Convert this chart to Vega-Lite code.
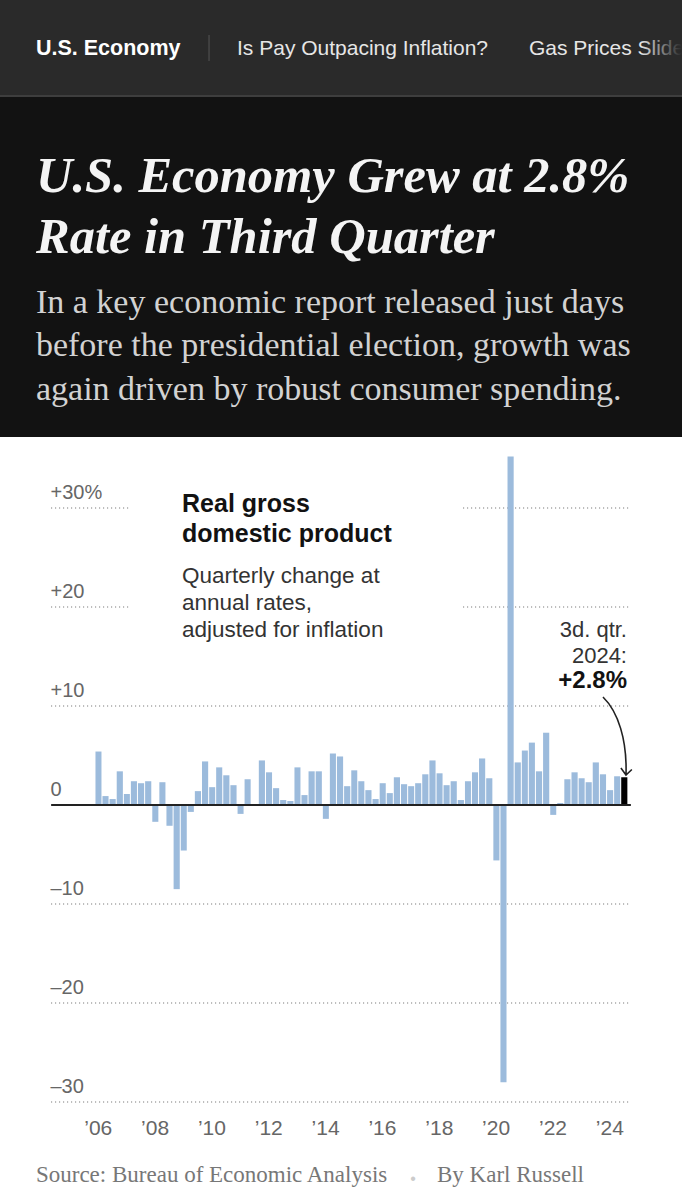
{
  "$schema": "https://vega.github.io/schema/vega-lite/v6.json",
  "width": 682,
  "height": 1200,
  "padding": 0,
  "autosize": {"type": "fit", "contains": "padding"},
  "background": "#ffffff",
  "config": {"view": {"stroke": null}},
  "datasets": {
    "gdp": [
      {"quarter": "2006-01-01", "gdp": 5.4}, {"quarter": "2006-04-01", "gdp": 0.9}, {"quarter": "2006-07-01", "gdp": 0.6}, {"quarter": "2006-10-01", "gdp": 3.4},
      {"quarter": "2007-01-01", "gdp": 1.1}, {"quarter": "2007-04-01", "gdp": 2.4}, {"quarter": "2007-07-01", "gdp": 2.2}, {"quarter": "2007-10-01", "gdp": 2.4},
      {"quarter": "2008-01-01", "gdp": -1.7}, {"quarter": "2008-04-01", "gdp": 2.3}, {"quarter": "2008-07-01", "gdp": -2.1}, {"quarter": "2008-10-01", "gdp": -8.5},
      {"quarter": "2009-01-01", "gdp": -4.6}, {"quarter": "2009-04-01", "gdp": -0.7}, {"quarter": "2009-07-01", "gdp": 1.4}, {"quarter": "2009-10-01", "gdp": 4.4},
      {"quarter": "2010-01-01", "gdp": 1.8}, {"quarter": "2010-04-01", "gdp": 3.8}, {"quarter": "2010-07-01", "gdp": 3.0}, {"quarter": "2010-10-01", "gdp": 2.0},
      {"quarter": "2011-01-01", "gdp": -0.9}, {"quarter": "2011-04-01", "gdp": 2.6}, {"quarter": "2011-07-01", "gdp": -0.1}, {"quarter": "2011-10-01", "gdp": 4.5},
      {"quarter": "2012-01-01", "gdp": 3.3}, {"quarter": "2012-04-01", "gdp": 1.7}, {"quarter": "2012-07-01", "gdp": 0.5}, {"quarter": "2012-10-01", "gdp": 0.4},
      {"quarter": "2013-01-01", "gdp": 3.8}, {"quarter": "2013-04-01", "gdp": 1.0}, {"quarter": "2013-07-01", "gdp": 3.4}, {"quarter": "2013-10-01", "gdp": 3.4},
      {"quarter": "2014-01-01", "gdp": -1.4}, {"quarter": "2014-04-01", "gdp": 5.2}, {"quarter": "2014-07-01", "gdp": 4.9}, {"quarter": "2014-10-01", "gdp": 1.9},
      {"quarter": "2015-01-01", "gdp": 3.5}, {"quarter": "2015-04-01", "gdp": 2.4}, {"quarter": "2015-07-01", "gdp": 1.5}, {"quarter": "2015-10-01", "gdp": 0.6},
      {"quarter": "2016-01-01", "gdp": 2.2}, {"quarter": "2016-04-01", "gdp": 1.2}, {"quarter": "2016-07-01", "gdp": 2.8}, {"quarter": "2016-10-01", "gdp": 2.1},
      {"quarter": "2017-01-01", "gdp": 1.9}, {"quarter": "2017-04-01", "gdp": 2.2}, {"quarter": "2017-07-01", "gdp": 3.1}, {"quarter": "2017-10-01", "gdp": 4.5},
      {"quarter": "2018-01-01", "gdp": 3.2}, {"quarter": "2018-04-01", "gdp": 2.0}, {"quarter": "2018-07-01", "gdp": 2.4}, {"quarter": "2018-10-01", "gdp": 0.5},
      {"quarter": "2019-01-01", "gdp": 2.4}, {"quarter": "2019-04-01", "gdp": 3.3}, {"quarter": "2019-07-01", "gdp": 4.7}, {"quarter": "2019-10-01", "gdp": 2.7},
      {"quarter": "2020-01-01", "gdp": -5.6}, {"quarter": "2020-04-01", "gdp": -28.0}, {"quarter": "2020-07-01", "gdp": 35.2}, {"quarter": "2020-10-01", "gdp": 4.3},
      {"quarter": "2021-01-01", "gdp": 5.5}, {"quarter": "2021-04-01", "gdp": 6.3}, {"quarter": "2021-07-01", "gdp": 3.4}, {"quarter": "2021-10-01", "gdp": 7.3},
      {"quarter": "2022-01-01", "gdp": -1.0}, {"quarter": "2022-04-01", "gdp": 0.2}, {"quarter": "2022-07-01", "gdp": 2.6}, {"quarter": "2022-10-01", "gdp": 3.3},
      {"quarter": "2023-01-01", "gdp": 2.7}, {"quarter": "2023-04-01", "gdp": 2.3}, {"quarter": "2023-07-01", "gdp": 4.3}, {"quarter": "2023-10-01", "gdp": 3.1},
      {"quarter": "2024-01-01", "gdp": 1.5}, {"quarter": "2024-04-01", "gdp": 2.9}, {"quarter": "2024-07-01", "gdp": 2.8}
    ],
    "grid": [{"v": 30}, {"v": 20}, {"v": 10}, {"v": -10}, {"v": -20}, {"v": -30}]
  },
  "data": {"name": "gdp"},
  "layer": [
    {
      "data": {"values": [{}]},
      "mark": {"type": "rect", "color": "#2a2a2a"},
      "encoding": {"y": {"datum": 81.31}, "y2": {"datum": 71.72}}
    },
    {
      "data": {"values": [{}]},
      "mark": {"type": "rect", "color": "#3e3e3e"},
      "encoding": {"y": {"datum": 71.72}, "y2": {"datum": 71.52}}
    },
    {
      "data": {"values": [{}]},
      "mark": {"type": "rect", "color": "#121212"},
      "encoding": {"y": {"datum": 71.52}, "y2": {"datum": 37.17}}
    },
    {
      "data": {"values": [{}]},
      "mark": {"type": "text", "text": "U.S. Economy", "font": "Liberation Sans", "fontWeight": "bold", "fontSize": 21.5, "color": "#ffffff", "align": "left", "baseline": "alphabetic", "clip": true},
      "encoding": {"x": {"datum": {"year": 2003, "month": 12, "date": 11, "utc": true}, "type": "temporal"}, "y": {"datum": 75.71}}
    },
    {
      "data": {"values": [{}]},
      "mark": {"type": "rule", "color": "#555555", "strokeWidth": 1},
      "encoding": {"x": {"datum": {"year": 2010, "month": 1, "date": 12, "utc": true}, "type": "temporal"}, "y": {"datum": 77.78}, "y2": {"datum": 75.15}}
    },
    {
      "data": {"values": [{}]},
      "mark": {"type": "text", "text": "Is Pay Outpacing Inflation?", "font": "Liberation Sans", "fontSize": 21, "color": "#e6e6e6", "align": "left", "baseline": "alphabetic", "clip": true},
      "encoding": {"x": {"datum": {"year": 2011, "month": 1, "date": 7, "utc": true}, "type": "temporal"}, "y": {"datum": 75.71}}
    },
    {
      "data": {"values": [{}]},
      "mark": {"type": "text", "text": "Gas Prices Slide", "font": "Liberation Sans", "fontSize": 21, "color": "#e6e6e6", "align": "left", "baseline": "alphabetic", "clip": true},
      "encoding": {"x": {"datum": {"year": 2021, "month": 4, "date": 16, "utc": true}, "type": "temporal"}, "y": {"datum": 75.71}}
    },
    {
      "data": {"values": [{}]},
      "mark": {"type": "rect", "color": {"gradient": "linear", "x1": 0, "x2": 1, "y1": 0, "y2": 0, "stops": [{"offset": 0, "color": "rgba(42,42,42,0)"}, {"offset": 1, "color": "#2a2a2a"}]}},
      "encoding": {"x": {"datum": {"year": 2025, "month": 3, "date": 13, "utc": true}, "type": "temporal"}, "x2": {"datum": {"year": 2026, "month": 9, "date": 3, "utc": true}}, "y": {"datum": 81.0}, "y2": {"datum": 71.9}}
    },
    {
      "data": {"values": [{}]},
      "mark": {"type": "text", "text": ["U.S. Economy Grew at 2.8%", "Rate in Third Quarter"], "font": "Liberation Serif", "fontWeight": "bold", "fontStyle": "italic", "fontSize": 50.5, "lineHeight": 61.5, "color": "#f4f4f4", "align": "left", "baseline": "alphabetic", "clip": true},
      "encoding": {"x": {"datum": {"year": 2003, "month": 12, "date": 11, "utc": true}, "type": "temporal"}, "y": {"datum": 61.92}}
    },
    {
      "data": {"values": [{}]},
      "mark": {"type": "text", "text": ["In a key economic report released just days", "before the presidential election, growth was", "again driven by robust consumer spending."], "font": "Liberation Serif", "fontSize": 34, "lineHeight": 43.5, "color": "#d2d2d2", "align": "left", "baseline": "alphabetic", "clip": true},
      "encoding": {"x": {"datum": {"year": 2003, "month": 12, "date": 11, "utc": true}, "type": "temporal"}, "y": {"datum": 49.7}}
    },
    {
      "data": {"name": "grid"},
      "mark": {"type": "rule", "color": "#a8a8a8", "strokeWidth": 1.3, "strokeDash": [1.2, 2.8]},
      "encoding": {
        "y": {"field": "v", "type": "quantitative"},
        "x": {"datum": {"year": 2004, "month": 6, "date": 21, "utc": true}, "type": "temporal"},
        "x2": {"datum": {"year": 2024, "month": 11, "date": 17, "utc": true}}
      }
    },
    {
      "data": {"values": [{}]},
      "mark": {"type": "rect", "color": "#ffffff"},
      "encoding": {"x": {"datum": {"year": 2007, "month": 4, "date": 2, "utc": true}, "type": "temporal"}, "x2": {"datum": {"year": 2018, "month": 12, "date": 7, "utc": true}}, "y": {"datum": 33}, "y2": {"datum": 16}}
    },
    {
      "mark": {"type": "bar", "timeUnitBandSize": 0.82},
      "encoding": {
        "x": {
          "field": "quarter", "timeUnit": "utcyearquarter", "type": "temporal",
          "scale": {"type": "utc", "nice": false, "domain": [{"year": 2002, "month": 9, "date": 5, "utc": true}, {"year": 2026, "month": 9, "date": 3, "utc": true}]},
          "axis": {
            "title": null, "domain": false, "ticks": false, "grid": false, "offset": -66, "labelPadding": 0,
            "labelBaseline": "alphabetic", "labelFont": "Liberation Sans", "labelFontSize": 21, "labelColor": "#666666",
            "labelFlush": false, "labelOverlap": false,
            "values": [
              {"year": 2006, "month": 2, "date": 12, "utc": true}, {"year": 2008, "month": 2, "date": 12, "utc": true},
              {"year": 2010, "month": 2, "date": 12, "utc": true}, {"year": 2012, "month": 2, "date": 12, "utc": true},
              {"year": 2014, "month": 2, "date": 12, "utc": true}, {"year": 2016, "month": 2, "date": 12, "utc": true},
              {"year": 2018, "month": 2, "date": 12, "utc": true}, {"year": 2020, "month": 2, "date": 12, "utc": true},
              {"year": 2022, "month": 2, "date": 12, "utc": true}, {"year": 2024, "month": 2, "date": 12, "utc": true}
            ],
            "labelExpr": "'’' + utcFormat(datum.value, '%y')"
          }
        },
        "y": {
          "field": "gdp", "type": "quantitative",
          "scale": {"domain": [-39.9, 81.31], "nice": false},
          "axis": {
            "title": null, "domain": false, "ticks": false, "grid": false, "offset": -50, "labelPadding": 0,
            "labelAlign": "left", "labelBaseline": "alphabetic", "labelOffset": -9,
            "labelFont": "Liberation Sans", "labelFontSize": 20, "labelColor": "#666666",
            "labelFlush": false, "labelOverlap": false,
            "values": [-30, -20, -10, 0, 10, 20, 30],
            "labelExpr": "datum.value > 0 ? '+' + datum.value + (datum.value == 30 ? '%' : '') : (datum.value < 0 ? '–' + abs(datum.value) : '0')"
          }
        },
        "color": {"condition": {"test": "utcyear(datum.quarter) == 2024 && utcquarter(datum.quarter) == 3", "value": "#000000"}, "value": "#9cbbdc"}
      }
    },
    {
      "data": {"values": [{}]},
      "mark": {"type": "rule", "color": "#222222", "strokeWidth": 2},
      "encoding": {"y": {"datum": 0}, "x": {"datum": {"year": 2004, "month": 6, "date": 23, "utc": true}, "type": "temporal"}, "x2": {"datum": {"year": 2024, "month": 11, "date": 15, "utc": true}}}
    },
    {
      "data": {"values": [{}]},
      "mark": {"type": "text", "text": ["Real gross", "domestic product"], "font": "Liberation Sans", "fontWeight": "bold", "fontSize": 25, "lineHeight": 30, "color": "#121212", "align": "left", "baseline": "alphabetic", "clip": true},
      "encoding": {"x": {"datum": {"year": 2009, "month": 1, "date": 30, "utc": true}, "type": "temporal"}, "y": {"datum": 29.6}}
    },
    {
      "data": {"values": [{}]},
      "mark": {"type": "text", "text": ["Quarterly change at", "annual rates,", "adjusted for inflation"], "font": "Liberation Sans", "fontSize": 22.5, "lineHeight": 27, "color": "#333333", "align": "left", "baseline": "alphabetic", "clip": true},
      "encoding": {"x": {"datum": {"year": 2009, "month": 1, "date": 30, "utc": true}, "type": "temporal"}, "y": {"datum": 22.42}}
    },
    {
      "data": {"values": [{}]},
      "mark": {"type": "text", "text": ["3d. qtr.", "2024:"], "font": "Liberation Sans", "fontSize": 22, "lineHeight": 26, "color": "#333333", "align": "right", "baseline": "alphabetic", "clip": true},
      "encoding": {"x": {"datum": {"year": 2024, "month": 9, "date": 26, "utc": true}, "type": "temporal"}, "y": {"datum": 16.97}}
    },
    {
      "data": {"values": [{}]},
      "mark": {"type": "text", "text": "+2.8%", "font": "Liberation Sans", "fontWeight": "bold", "fontSize": 24, "color": "#121212", "align": "right", "baseline": "alphabetic", "clip": true},
      "encoding": {"x": {"datum": {"year": 2024, "month": 9, "date": 26, "utc": true}, "type": "temporal"}, "y": {"datum": 11.82}}
    },
    {
      "data": {"values": [{}]},
      "mark": {"type": "point", "shape": "M-0.36,-1 C0.03,-0.62 0.26,0.1 0.23,1 M0.1,0.82 L0.23,1 L0.38,0.86", "size": 6084, "filled": false, "stroke": "#222222", "strokeWidth": 1.6, "opacity": 1},
      "encoding": {"x": {"datum": {"year": 2024, "month": 5, "date": 21, "utc": true}, "type": "temporal"}, "y": {"datum": 6.97}}
    },
    {
      "data": {"values": [{}]},
      "mark": {"type": "text", "text": "Source: Bureau of Economic Analysis", "font": "Liberation Serif", "fontSize": 23, "color": "#777777", "align": "left", "baseline": "alphabetic", "clip": true},
      "encoding": {"x": {"datum": {"year": 2003, "month": 12, "date": 11, "utc": true}, "type": "temporal"}, "y": {"datum": -38.08}}
    },
    {
      "data": {"values": [{}]},
      "mark": {"type": "text", "text": "•", "font": "Liberation Sans", "fontSize": 16, "color": "#cccccc", "align": "center", "baseline": "alphabetic", "clip": true},
      "encoding": {"x": {"datum": {"year": 2017, "month": 3, "date": 17, "utc": true}, "type": "temporal"}, "y": {"datum": -38.3}}
    },
    {
      "data": {"values": [{}]},
      "mark": {"type": "text", "text": "By Karl Russell", "font": "Liberation Serif", "fontSize": 23, "color": "#777777", "align": "left", "baseline": "alphabetic", "clip": true},
      "encoding": {"x": {"datum": {"year": 2018, "month": 1, "date": 20, "utc": true}, "type": "temporal"}, "y": {"datum": -38.08}}
    }
  ]
}
